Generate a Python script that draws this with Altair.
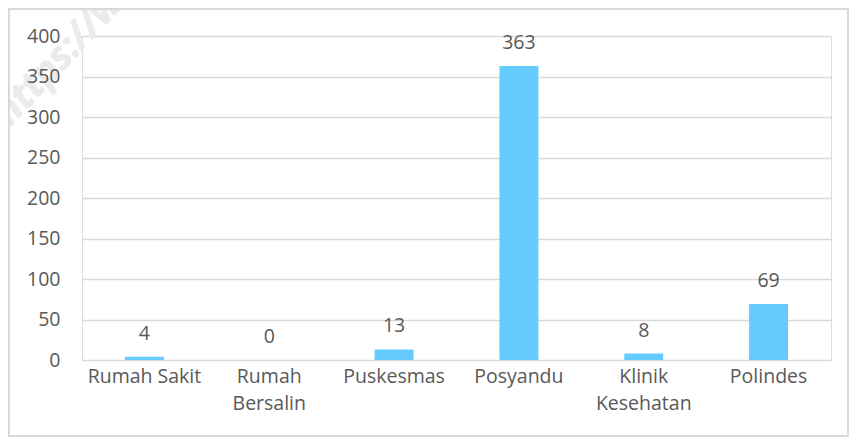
import altair as alt
import pandas as pd

categories = ["Rumah Sakit", "Rumah Bersalin", "Puskesmas", "Posyandu", "Klinik Kesehatan", "Polindes"]
values = [4, 0, 13, 363, 8, 69]

df = pd.DataFrame({"category": categories, "value": values})

W, H = 749, 324
FONT = "Open Sans"
TXT = "#595959"
FS = 19.5
TICKS = list(range(0, 401, 50))

x = alt.X("category:N", sort=categories, title=None,
          scale=alt.Scale(paddingInner=0.686, paddingOuter=0.343),
          axis=alt.Axis(labelAngle=0, ticks=False, domain=False, grid=False,
                        labelPadding=7, labelFontSize=FS, labelFont=FONT,
                        labelColor=TXT, labelLineHeight=27, zindex=1,
                        labelExpr="datum.label == 'Rumah Sakit' ? datum.label : split(datum.label, ' ')"))
yscale = alt.Scale(domain=[0, 400], nice=False)
y_grid = alt.Y("value:Q", title=None, scale=yscale,
               axis=alt.Axis(values=TICKS, ticks=False, domain=False, labels=False,
                             gridColor="#d9d9d9", gridWidth=1.3, zindex=0))
y_lab = alt.Y("value:Q", title=None, scale=yscale,
              axis=alt.Axis(values=TICKS, ticks=False, domain=False, grid=False, orient="left",
                            labelPadding=22, labelFontSize=FS, labelFont=FONT,
                            labelColor=TXT, zindex=1))

bars = alt.Chart(df).mark_bar(color="#66CCFF", size=39).encode(x=x, y=y_grid)
labels = alt.Chart(df).mark_text(baseline="bottom", dy=-13, fontSize=FS, font=FONT, color=TXT).encode(
    x=alt.X("category:N", sort=categories), y=y_lab, text="value:Q")

border = alt.Chart(df).mark_rect(fill=None, stroke="#d9d9d9", strokeWidth=1.3).encode(
    x=alt.value(-73), x2=alt.value(W + 17), y=alt.value(-27), y2=alt.value(H + 76))

watermark = alt.Chart(df).mark_text(text="https://www", angle=313, fontSize=38, font=FONT,
                                    fontStyle="italic", fontWeight="bold", color="#ebebeb",
                                    align="left", baseline="middle").encode(
    x=alt.value(-80), y=alt.value(84))

chart = alt.layer(watermark, border, bars, labels).resolve_axis(y="independent").properties(
    width=W, height=H,
    autosize=alt.AutoSizeParams(type="none"),
    padding={"left": 74, "top": 28, "right": 18, "bottom": 78},
).configure_view(stroke=None).configure(background="white")

chart.save("out.html", embed_options={"renderer": "svg", "actions": False})
